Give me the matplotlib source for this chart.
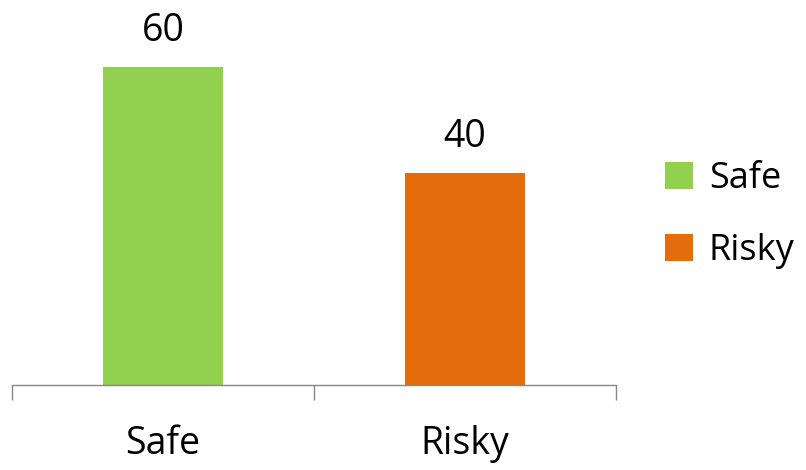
import matplotlib.pyplot as plt
import numpy as np

plt.rcParams['font.family'] = ['Open Sans', 'DejaVu Sans']

categories = ['Safe', 'Risky']
values = [60, 40]
colors = ['#92D050', '#E46C0A']

fig = plt.figure(figsize=(8.06, 4.70), dpi=100)
ax = fig.add_axes([0.0149, 0.181, 0.7494, 0.789])

x = np.arange(len(categories))
bars = ax.bar(x, values, width=0.4, color=colors, label=categories)

for b, v in zip(bars, values):
    ax.text(b.get_x() + b.get_width() / 2, v + 3.2, str(v),
            ha='center', va='bottom', fontsize=27, color='black')

ax.set_xlim(-0.5, 1.5)
ax.set_ylim(0, 70)
ax.set_yticks([])
ax.set_xticks(x)
ax.set_xticklabels(categories, fontsize=27)
ax.tick_params(axis='x', which='major', length=0, pad=29)
ax.set_xticks([-0.5, 0.5, 1.5], minor=True)
ax.tick_params(axis='x', which='minor', length=11, width=1, color='#868686')

for s in ['top', 'right', 'left']:
    ax.spines[s].set_visible(False)
ax.spines['bottom'].set_color('#868686')
ax.spines['bottom'].set_linewidth(1)

leg = ax.legend(bars, categories, loc='center left', bbox_to_anchor=(1.04, 0.458),
                frameon=False, fontsize=26, handlelength=0.75, handleheight=0.75,
                handletextpad=0.45, labelspacing=1.0, borderaxespad=0.3)

fig.savefig('out.png', dpi=100)
